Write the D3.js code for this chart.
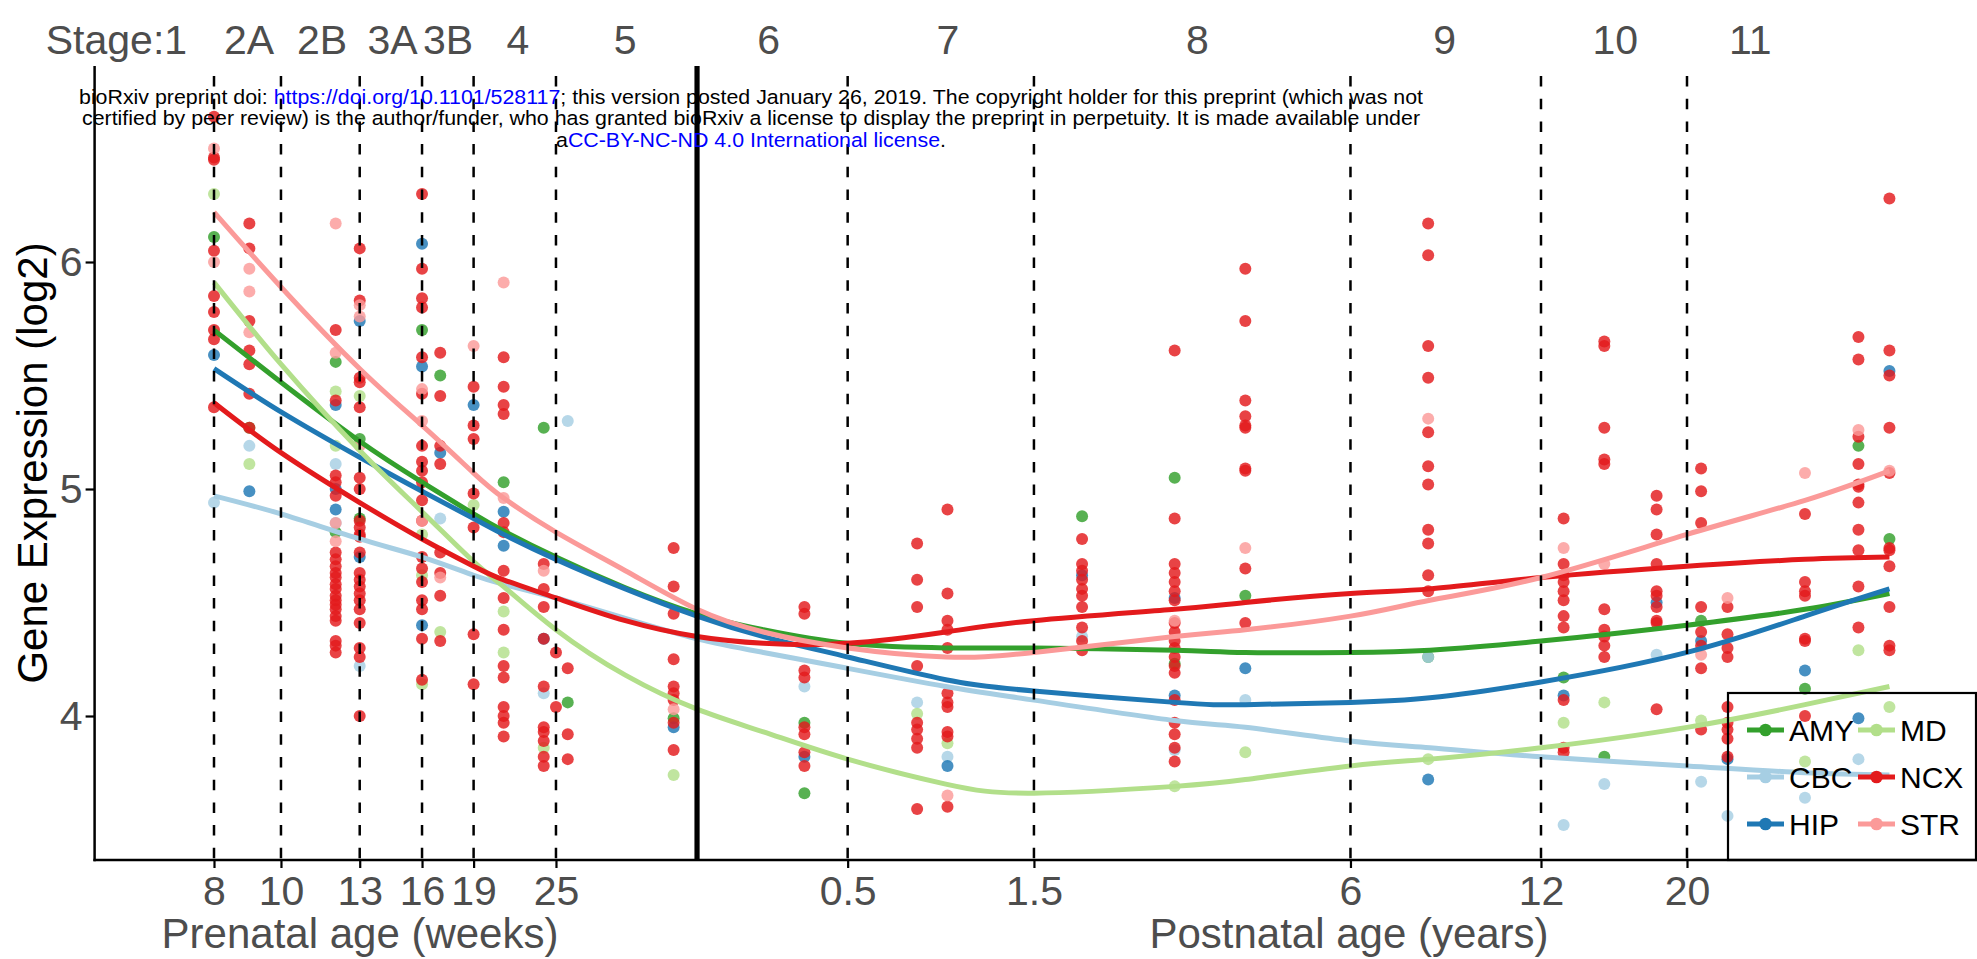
<!DOCTYPE html>
<html><head><meta charset="utf-8">
<script src="https://cdn.jsdelivr.net/npm/d3@7"></script>
<style>html,body{margin:0;padding:0;background:#fff;} svg{display:block;font-family:"Liberation Sans",Arial,Helvetica,sans-serif;}</style>
</head><body><svg id="chart" width="1977" height="959"></svg>
<script>
// ---------- data ----------
const regions = ["AMY","CBC","HIP","MD","NCX","STR"];
const regionColors = ["#33A02C","#A6CEE3","#1F78B4","#B2DF8A","#E31A1C","#FB9A99"];

// sample columns: prenatal in post-conception weeks, postnatal in years
const prenatalWeeks = [8,9,12,13,16,17,19,21,24,25,26,37];
const postnatalYears = [0.33,0.83,1,2,3,4,8,13,15,18,21,23,30,36,40];

// points: [columnIndex, [values...]]
const ptsAMY = [[0,[6.11]],[1,[5.27]],[2,[5.56,4.81]],[3,[5.22,4.87]],[4,[5.70]],[5,[5.50]],[7,[5.03]],[8,[5.27]],[10,[4.06]],[11,[3.99]],[12,[3.97,3.66]],[15,[4.88]],[16,[5.05,4.23]],[17,[4.53]],[18,[4.26]],[19,[4.17]],[20,[3.82]],[22,[4.42]],[24,[4.12]],[25,[5.19]],[26,[4.78]]];
const ptsCBC = [[0,[4.94]],[1,[5.19]],[2,[5.11,4.85]],[3,[4.22]],[5,[4.87]],[8,[4.10]],[10,[5.30]],[12,[4.13]],[13,[4.06]],[14,[3.82]],[15,[4.35]],[16,[3.85]],[17,[4.07]],[18,[4.26]],[19,[3.52]],[20,[3.70]],[21,[4.27]],[22,[3.71]],[23,[3.56]],[24,[3.64]],[25,[3.81]]];
const ptsHIP = [[0,[5.59]],[1,[4.99]],[2,[5.37,5.00,4.91]],[3,[5.74,4.70]],[4,[6.08,5.54,4.40]],[5,[5.16]],[6,[5.37]],[7,[4.90,4.75]],[8,[4.34]],[11,[3.95]],[12,[3.82]],[14,[3.78]],[15,[4.62]],[16,[4.52,4.09]],[17,[4.21]],[18,[3.72]],[19,[4.09]],[21,[4.50]],[22,[4.33]],[23,[3.81]],[24,[4.20]],[25,[3.99]],[26,[5.52]]];
const ptsMD = [[0,[6.30]],[1,[5.11]],[2,[5.43,5.19]],[3,[5.41]],[4,[4.80,4.62,4.14]],[5,[4.37]],[6,[4.93]],[7,[4.46,4.28]],[8,[3.86]],[11,[3.74]],[13,[4.01]],[14,[3.88]],[16,[3.69]],[17,[3.84]],[18,[3.81]],[19,[3.97]],[20,[4.06]],[22,[3.98]],[24,[3.80]],[25,[4.29]],[26,[4.04]]];
const ptsNCX = [
  [0,[6.64,6.46,6.45,6.05,5.85,5.78,5.70,5.66,5.36]],
  [1,[6.17,6.06,5.74,5.61,5.55,5.42,5.27]],
  [2,[5.70,5.39,5.06,5.03,4.97,4.72,4.69,4.66,4.63,4.61,4.58,4.56,4.53,4.51,4.49,4.47,4.44,4.42,4.33,4.31,4.28]],
  [3,[6.06,5.83,5.49,5.47,5.36,5.05,5.00,4.86,4.83,4.80,4.79,4.72,4.63,4.60,4.57,4.54,4.51,4.47,4.41,4.30,4.26,4.00]],
  [4,[6.30,5.97,5.84,5.80,5.58,5.42,5.19,5.12,5.08,5.03,4.95,4.86,4.70,4.65,4.59,4.51,4.47,4.34,4.16]],
  [5,[5.60,5.41,5.19,5.11,4.72,4.63,4.53,4.33]],
  [6,[5.45,5.28,5.22,4.98,4.83,4.36,4.14]],
  [7,[5.58,5.45,5.37,5.33,4.85,4.81,4.64,4.52,4.38,4.22,4.17,4.04,4.00,3.97,3.91]],
  [8,[4.67,4.56,4.48,4.34,4.13,3.95,3.93,3.89,3.82,3.78]],
  [9,[4.28,4.04]],
  [10,[4.21,3.92,3.81]],
  [11,[4.74,4.57,4.45,4.25,4.13,4.10,4.07,3.97,3.85]],
  [12,[4.48,4.45,4.20,4.17,3.95,3.92,3.84,3.78]],
  [13,[4.76,4.60,4.48,4.22,3.97,3.94,3.90,3.86,3.59]],
  [14,[4.91,4.54,4.42,4.38,4.30,4.10,4.06,4.04,3.93,3.91,3.60]],
  [15,[4.78,4.67,4.64,4.60,4.56,4.53,4.48,4.39,4.33,4.29]],
  [16,[5.61,4.87,4.67,4.63,4.59,4.55,4.51,4.41,4.37,4.33,4.30,4.26,4.22,4.19,4.07,3.97,3.92,3.86,3.80]],
  [17,[5.97,5.74,5.39,5.32,5.28,5.27,5.09,5.08,4.65,4.41]],
  [18,[6.17,6.03,5.63,5.49,5.25,5.10,5.02,4.82,4.76,4.62,4.55]],
  [19,[4.87,4.67,4.62,4.59,4.55,4.51,4.44,4.39,4.07,3.86,3.84]],
  [20,[5.65,5.63,5.27,5.13,5.11,4.47,4.38,4.35,4.31,4.26]],
  [21,[4.97,4.91,4.80,4.67,4.55,4.53,4.48,4.42,4.41,4.03]],
  [22,[5.09,4.99,4.85,4.48,4.37,4.31,4.21,3.94]],
  [23,[4.48,4.36,4.30,4.26,4.04,3.97,3.94,3.90,3.82]],
  [24,[4.89,4.59,4.55,4.53,4.34,4.33,4.00]],
  [25,[5.67,5.57,5.23,5.11,5.02,5.01,4.94,4.82,4.73,4.57,4.39]],
  [26,[6.28,5.61,5.50,5.27,5.07,4.74,4.73,4.66,4.48,4.31,4.29]]
];
const ptsSTR = [[0,[6.50,6.00]],[1,[5.97,5.87,5.69]],[2,[6.17,5.60,4.85,4.77]],[3,[5.81,5.76,5.19]],[4,[5.44,5.30,4.86]],[5,[4.61]],[6,[5.63]],[7,[5.91,4.96]],[8,[4.64]],[11,[4.03]],[14,[3.65]],[16,[4.42]],[17,[4.74]],[18,[5.31]],[19,[4.74]],[20,[4.67]],[22,[4.27]],[23,[4.52]],[24,[5.07]],[25,[5.26]],[26,[5.08]]];

// smooth curves read at these ages (prenatal weeks, then postnatal years)
const curveWeeks = [8,10,13,16,19,21,25,31.5];
const curveYears = [0,0.19,0.5,0.99,1.59,3,4,6,8.05,12,20,30,40];
const curveAMY = [5.70,5.47,5.21,5.03,4.89,4.815,4.70,4.565, 4.45,4.38,4.32,4.30,4.30,4.29,4.28,4.28,4.29,4.33,4.40,4.47,4.54];
const curveCBC = [4.97,4.89,4.78,4.70,4.62,4.58,4.52,4.43, 4.34,4.28,4.21,4.13,4.07,3.98,3.95,3.89,3.86,3.82,3.78,3.75,3.74];
const curveHIP = [5.53,5.34,5.14,4.99,4.87,4.80,4.69,4.56, 4.44,4.35,4.26,4.16,4.11,4.06,4.05,4.06,4.08,4.15,4.28,4.44,4.56];
const curveMD  = [5.91,5.55,5.17,4.90,4.68,4.57,4.38,4.18, 4.03,3.93,3.81,3.70,3.66,3.69,3.72,3.78,3.81,3.86,3.95,4.05,4.13];
const curveNCX = [5.38,5.16,4.94,4.78,4.66,4.60,4.52,4.42, 4.35,4.32,4.32,4.37,4.42,4.47,4.50,4.54,4.56,4.61,4.66,4.69,4.70];
const curveSTR = [6.22,5.89,5.53,5.28,5.07,4.96,4.81,4.64, 4.47,4.37,4.30,4.26,4.28,4.35,4.38,4.44,4.51,4.61,4.80,4.95,5.08];

// axis ticks
const prenatalTicks = [8,10,13,16,19,25];
const prenatalTickLabels = ["8","10","13","16","19","25"];
const postnatalTickPos = [0.5,1.59,6,12,20];
const postnatalTickLabels = ["0.5","1.5","6","12","20"];
const yTicks = [4,5,6];
const yTickLabels = ["4","5","6"];

// stage labels (positions in post-conception weeks)
const stageNames = ["Stage:1","2A","2B","3A","3B","4","5","6","7","8","9","10","11"];
const stagePosWeeks = [5.78,8.99,11.47,14.5,17.45,22.03,31.47,50.8,92.3,211.9,482.9,852.9,1336.6];

// ---------- drawing ----------
const svg = d3.select("#chart");
const panel = {left:94.6, right:1977, top:66, bottom:860};
const yrToW = y => 40 + y*52.143;
const x = d3.scaleLog().domain([8, yrToW(20)]).range([214, 1687]);
const y = d3.scaleLinear().domain([4, 6]).range([716, 262]);
const colAge = i => i < prenatalWeeks.length ? prenatalWeeks[i] : yrToW(postnatalYears[i - prenatalWeeks.length]);
const grey = "#4D4D4D";

const allPts = [ptsAMY, ptsCBC, ptsHIP, ptsMD, ptsNCX, ptsSTR];
const allCurves = [curveAMY, curveCBC, curveHIP, curveMD, curveNCX, curveSTR];
const curveAges = curveWeeks.concat(curveYears.map(yrToW));

// points
const gp = svg.append("g");
allPts.forEach((pts, si) => {
  const flat = [];
  pts.forEach(([c, vals]) => vals.forEach(v => flat.push([colAge(c), v])));
  gp.selectAll(null).data(flat).enter().append("circle")
    .attr("cx", d => x(d[0])).attr("cy", d => y(d[1])).attr("r", 6)
    .attr("fill", regionColors[si]).attr("fill-opacity", 0.82);
});

// smooth curves
const line = d3.line().x(d => x(d[0])).y(d => y(d[1])).curve(d3.curveNatural);
allCurves.forEach((vals, si) => {
  svg.append("path").datum(vals.map((v, i) => [curveAges[i], v]))
    .attr("d", line).attr("fill", "none").attr("stroke", regionColors[si])
    .attr("stroke-width", 5).attr("stroke-linecap", "butt");
});

// dashed stage boundary lines
const vlineAges = prenatalTicks.concat(postnatalTickPos.map(yrToW));
svg.append("g").selectAll("line").data(vlineAges).enter().append("line")
  .attr("x1", d => x(d)).attr("x2", d => x(d))
  .attr("y1", 76).attr("y2", panel.bottom)
  .attr("stroke", "#000").attr("stroke-width", 2.5).attr("stroke-dasharray", "10.5,12.2");

// birth line
svg.append("line").attr("x1", x(40)).attr("x2", x(40)).attr("y1", panel.top).attr("y2", panel.bottom)
  .attr("stroke", "#000").attr("stroke-width", 5.2);

// axes
const fs = 41;
const xAxisPre = d3.axisBottom(x).tickValues(prenatalTicks).tickFormat((d, i) => prenatalTickLabels[i]).tickSize(8).tickPadding(8);
const xAxisPost = d3.axisBottom(x).tickValues(postnatalTickPos.map(yrToW)).tickFormat((d, i) => postnatalTickLabels[i]).tickSize(8).tickPadding(8);
[xAxisPre, xAxisPost].forEach(ax => {
  const g = svg.append("g").attr("transform", `translate(0,${panel.bottom})`).call(ax);
  g.select(".domain").remove();
  g.selectAll(".tick line").attr("stroke", "#000").attr("stroke-width", 2.2);
  g.selectAll(".tick text").attr("fill", grey).attr("font-size", fs).attr("font-family", "Liberation Sans, Arial, sans-serif");
});
const yAxis = d3.axisLeft(y).tickValues(yTicks).tickFormat((d, i) => yTickLabels[i]).tickSize(9).tickPadding(3);
const gy = svg.append("g").attr("transform", `translate(${panel.left},0)`).call(yAxis);
gy.select(".domain").remove();
gy.selectAll(".tick line").attr("stroke", "#000").attr("stroke-width", 2.2);
gy.selectAll(".tick text").attr("fill", grey).attr("font-size", fs).attr("font-family", "Liberation Sans, Arial, sans-serif");

svg.append("line").attr("x1", panel.left).attr("x2", panel.left).attr("y1", panel.top).attr("y2", panel.bottom + 1.2)
  .attr("stroke", "#000").attr("stroke-width", 2.5);
svg.append("line").attr("x1", panel.left - 1.2).attr("x2", panel.right).attr("y1", panel.bottom).attr("y2", panel.bottom)
  .attr("stroke", "#000").attr("stroke-width", 2.5);

// axis titles
svg.append("text").attr("x", 360).attr("y", 948).attr("text-anchor", "middle").attr("fill", grey)
  .attr("font-size", 42).text("Prenatal age (weeks)");
svg.append("text").attr("x", 1349).attr("y", 948).attr("text-anchor", "middle").attr("fill", grey)
  .attr("font-size", 42).text("Postnatal age (years)");
svg.append("text").attr("transform", "translate(47,463) rotate(-90)").attr("text-anchor", "middle")
  .attr("fill", "#000").attr("font-size", 42).text("Gene Expression (log2)");

// stage labels
svg.append("g").selectAll("text").data(stageNames).enter().append("text")
  .attr("x", (d, i) => x(stagePosWeeks[i])).attr("y", 54).attr("text-anchor", "middle")
  .attr("fill", grey).attr("font-size", 41).text(d => d);

// legend
const lg = svg.append("g");
lg.append("rect").attr("x", 1728).attr("y", 693).attr("width", 248).attr("height", 167)
  .attr("fill", "none").attr("stroke", "#000").attr("stroke-width", 2.2);
regions.forEach((r, i) => {
  const col = i < 3 ? 0 : 1, row = i % 3;
  const kx = col === 0 ? 1747 : 1858;
  const ky = 730 + row * 47;
  lg.append("line").attr("x1", kx).attr("x2", kx + 37).attr("y1", ky).attr("y2", ky)
    .attr("stroke", regionColors[i]).attr("stroke-width", 4.8);
  lg.append("circle").attr("cx", kx + 18.5).attr("cy", ky).attr("r", 6.3).attr("fill", regionColors[i]);
  lg.append("text").attr("x", kx + 42).attr("y", ky + 11).attr("font-size", 30).attr("fill", "#000").text(r);
});

// bioRxiv watermark
const wm = svg.append("g").attr("font-size", 20.5).attr("fill", "#000");
const l1 = wm.append("text").attr("x", 751).attr("y", 104).attr("text-anchor", "middle")
  .attr("textLength", 1344).attr("lengthAdjust", "spacingAndGlyphs");
l1.append("tspan").text("bioRxiv preprint doi: ");
l1.append("tspan").attr("fill", "#0000FF").text("https://doi.org/10.1101/528117");
l1.append("tspan").text("; this version posted January 26, 2019. The copyright holder for this preprint (which was not");
wm.append("text").attr("x", 751).attr("y", 125).attr("text-anchor", "middle")
  .attr("textLength", 1338).attr("lengthAdjust", "spacingAndGlyphs")
  .text("certified by peer review) is the author/funder, who has granted bioRxiv a license to display the preprint in perpetuity. It is made available under");
const l3 = wm.append("text").attr("x", 751).attr("y", 147).attr("text-anchor", "middle")
  .attr("textLength", 390).attr("lengthAdjust", "spacingAndGlyphs");
l3.append("tspan").text("a");
l3.append("tspan").attr("fill", "#0000FF").text("CC-BY-NC-ND 4.0 International license");
l3.append("tspan").text(".");
</script></body></html>
